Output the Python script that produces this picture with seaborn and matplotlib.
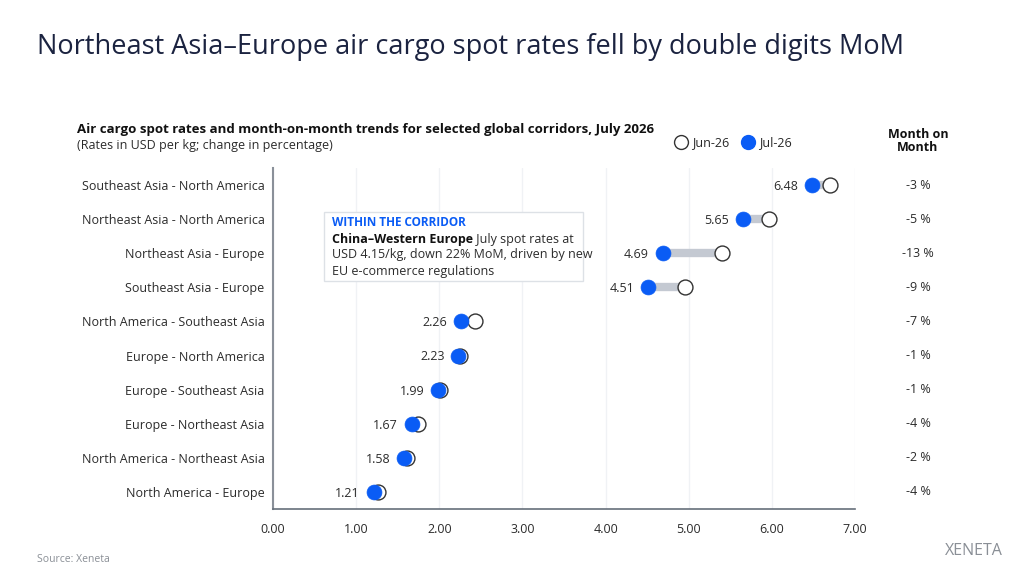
import pandas as pd
import numpy as np
import seaborn as sns
import matplotlib.pyplot as plt
from matplotlib.transforms import blended_transform_factory

corridors = ['Southeast Asia - North America', 'Northeast Asia - North America',
             'Northeast Asia - Europe', 'Southeast Asia - Europe',
             'North America - Southeast Asia', 'Europe - North America',
             'Europe - Southeast Asia', 'Europe - Northeast Asia',
             'North America - Northeast Asia', 'North America - Europe']
jul_26 = [6.48, 5.65, 4.69, 4.51, 2.26, 2.23, 1.99, 1.67, 1.58, 1.21]
jun_26 = [6.70, 5.96, 5.40, 4.95, 2.43, 2.25, 2.01, 1.74, 1.61, 1.26]
mom_pct = [-3, -5, -13, -9, -7, -1, -1, -4, -2, -4]

blue = '#0a5cf5'
navy = '#1b2340'
text_col = '#2b2b2b'

sns.set_theme(style='white')
plt.rcParams['font.family'] = ['Open Sans', 'DejaVu Sans']

pos = np.arange(len(corridors))
df = pd.DataFrame({'corridor': corridors, 'pos': pos, 'Jul-26': jul_26, 'Jun-26': jun_26})

fig = plt.figure(figsize=(10.24, 5.76), dpi=100)
ax = fig.add_axes([273 / 1024, 1 - 509 / 576, 582 / 1024, 341 / 576])

# connector bars between the two months
ax.hlines(df['pos'], df['Jul-26'], df['Jun-26'], color='#c4c9d2', lw=6, zorder=1)

sns.scatterplot(data=df, x='Jun-26', y='pos', ax=ax, s=115, color='white',
                edgecolor='#333333', linewidth=1, zorder=2)
sns.scatterplot(data=df, x='Jul-26', y='pos', ax=ax, s=115, color=blue,
                edgecolor=blue, linewidth=0.5, zorder=3)

for p, v in zip(pos, jul_26):
    ax.annotate(f'{v:.2f}', (v, p), xytext=(-10, -1), textcoords='offset points',
                ha='right', va='center', fontsize=9, color=text_col)

ax.set_xlim(0, 7)
ax.set_ylim(len(corridors) - 0.5, -0.5)
ax.set_xticks(np.arange(0, 8))
ax.set_xticklabels([f'{t:.2f}' for t in np.arange(0, 8)], fontsize=9, color=text_col)
ax.set_yticks(pos)
ax.set_yticklabels(corridors, fontsize=9, color=text_col)
ax.tick_params(axis='y', length=0, pad=6)
ax.tick_params(axis='x', length=4, color='#666f7a', pad=6)
ax.set_xlabel('')
ax.set_ylabel('')
ax.grid(axis='x', color='#f0f2f5', lw=1)
ax.set_axisbelow(True)
for side in ['top', 'right']:
    ax.spines[side].set_visible(False)
ax.spines['left'].set_color('#8a9099')
ax.spines['left'].set_linewidth(1.5)
ax.spines['bottom'].set_color('#666f7a')
ax.spines['bottom'].set_linewidth(1.2)

# month-on-month column
tr = blended_transform_factory(fig.transFigure, ax.transData)
for p, m in zip(pos, mom_pct):
    ax.text(918 / 1024, p, f'{m} %', transform=tr, ha='center', va='center',
            fontsize=9, color=text_col)
fig.text(918 / 1024, 1 - 141 / 576, 'Month on\nMonth', ha='center', va='center',
         fontsize=9, fontweight='bold', color='#111111', linespacing=1.0)

# titles
fig.text(37 / 1024, 1 - 47 / 576,
         'Northeast Asia\u2013Europe air cargo spot rates fell by double digits MoM',
         fontsize=19.5, color=navy, va='center')
fig.text(77 / 1024, 1 - 130 / 576,
         'Air cargo spot rates and month-on-month trends for selected global corridors, July 2026',
         fontsize=9.5, fontweight='bold', color='#111111', va='center')
fig.text(77 / 1024, 1 - 146 / 576, '(Rates in USD per kg; change in percentage)',
         fontsize=9, color=text_col, va='center')

# legend
fig.legend(handles=[
    plt.Line2D([], [], marker='o', ls='', ms=10, mfc='white', mec='#333333', mew=1, label='Jun-26'),
    plt.Line2D([], [], marker='o', ls='', ms=10, mfc=blue, mec=blue, label='Jul-26')],
    loc='center', bbox_to_anchor=(733 / 1024, 1 - 143 / 576), ncol=2, frameon=False,
    fontsize=9, handletextpad=0.4, columnspacing=1.0, handlelength=1)

# annotation box
box = plt.Rectangle((324 / 1024, 1 - 281 / 576), 259 / 1024, 69 / 576,
                    transform=fig.transFigure, facecolor='white', edgecolor='#dde1e6',
                    lw=1, zorder=5)
fig.add_artist(box)
fig.text(332 / 1024, 1 - 223 / 576, 'WITHIN THE CORRIDOR', fontsize=8.5,
         fontweight='bold', color=blue, va='center', zorder=6)
bold = fig.text(332 / 1024, 1 - 239 / 576, 'China\u2013Western Europe', fontsize=9,
                fontweight='bold', color='#111111', va='center', zorder=6)
fig.add_artist(plt.Annotation(' July spot rates at', xy=(1, 0.5), xycoords=bold,
                              va='center', ha='left', fontsize=9, color=text_col, zorder=6))
fig.text(332 / 1024, 1 - 263 / 576,
         'USD 4.15/kg, down 22% MoM, driven by new\nEU e-commerce regulations',
         fontsize=9, color=text_col, va='center', linespacing=1.35, zorder=6)

# footer
fig.text(37 / 1024, 1 - 560 / 576, 'Source: Xeneta', fontsize=7.5, color='#8a8f96', va='center')
fig.text(1003 / 1024, 1 - 551 / 576, 'XENETA', fontsize=11.5, color='#8a8f96',
         va='center', ha='right')

fig.savefig('out.png', dpi=100, facecolor='white')
